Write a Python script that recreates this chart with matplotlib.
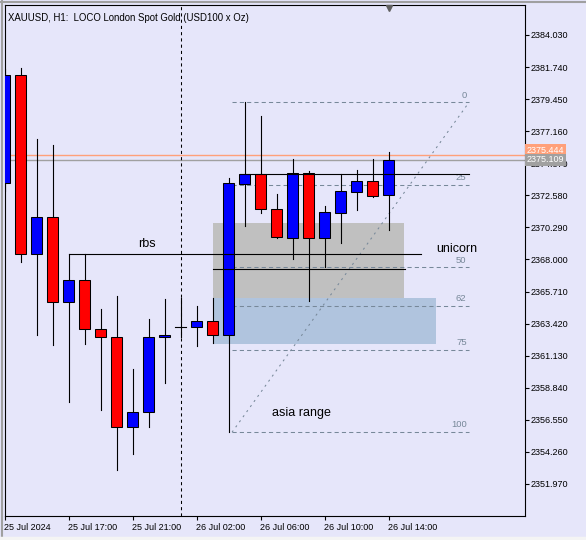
import matplotlib.pyplot as plt
import matplotlib.transforms as mtransforms
from matplotlib.patches import Rectangle

plt.rcParams['font.family'] = ['Liberation Sans', 'DejaVu Sans']

# velas H1 de XAUUSD (barra 0 = 25 Jul 13:00)
abertura = [2373.48, 2381.15, 2368.37, 2371.01, 2364.94, 2366.51, 2363.02, 2362.44, 2356.02,
            2357.09, 2362.44, 2363.16, 2363.20, 2363.59, 2362.59, 2373.41, 2374.08, 2371.59,
            2369.56, 2374.15, 2369.51, 2371.34, 2372.84, 2373.60, 2372.63]
maxima = [2381.60, 2381.67, 2376.58, 2376.15, 2368.37, 2368.37, 2364.46, 2365.37, 2360.16,
          2363.73, 2365.18, 2365.23, 2364.66, 2365.25, 2373.80, 2379.22, 2378.25, 2372.68,
          2375.18, 2374.32, 2371.82, 2374.08, 2374.39, 2375.18, 2375.68]
minima = [2372.90, 2367.84, 2362.63, 2361.92, 2357.85, 2361.99, 2357.27, 2352.99, 2354.13,
          2356.02, 2359.20, 2362.44, 2361.84, 2362.06, 2355.66, 2370.39, 2371.34, 2369.54,
          2368.04, 2365.06, 2367.49, 2369.20, 2371.54, 2372.49, 2370.13]
fechamento = [2381.15, 2368.37, 2371.01, 2364.94, 2366.51, 2363.02, 2362.44, 2356.02, 2357.09,
              2362.44, 2362.59, 2363.16, 2363.59, 2362.59, 2373.44, 2374.08, 2371.59, 2369.63,
              2374.15, 2369.51, 2371.37, 2372.89, 2373.60, 2372.56, 2375.109]

tempo_pos = [0, 4, 8, 12, 16, 20, 24]
tempo_txt = ['25 Jul 2024', '25 Jul 17:00', '25 Jul 21:00', '26 Jul 02:00',
             '26 Jul 06:00', '26 Jul 10:00', '26 Jul 14:00']
preco_ticks = [2384.030, 2381.740, 2379.450, 2377.160, 2374.870, 2372.580, 2370.290, 2368.000,
               2365.710, 2363.420, 2361.130, 2358.840, 2356.550, 2354.260, 2351.970]

bid = 2375.109
ask = 2375.444

# objetos desenhados
rbs_nivel, rbs_ini, rbs_fim = 2368.37, 4, 26
linha_topo, topo_ini, topo_fim = 2374.08, 14.7, 29
linha_meio, meio_ini, meio_fim = 2367.31, 13, 25
caixa_cinza = (13, 24.97, 2365.25, 2370.61)
caixa_azul = (13, 26.97, 2361.99, 2365.25)
fib_ini, fib_fim = 14.22, 29.03
fib_alta, fib_baixa = 2379.22, 2355.66
fib_niveis = [0, 0.25, 0.5, 0.618, 0.75, 1.0]
fib_txt = ['0', '25', '50', '62', '75', '100']
separador_dia = 11

fundo = '#E6E6FA'
fig = plt.figure(figsize=(5.86, 5.40), dpi=100, facecolor=fundo)
ax = fig.add_axes([4.5 / 586, (540 - 516.3) / 540, 520 / 586, 511 / 540])
ax.set_facecolor(fundo)
ax.set_xlim(0, 32.5)
ax.set_ylim(2349.66, 2386.15)

# caixas
x0, x1, y0, y1 = caixa_cinza
ax.add_patch(Rectangle((x0, y0), x1 - x0, y1 - y0, fc='#C0C0C0', ec='none', zorder=1))
x0, x1, y0, y1 = caixa_azul
ax.add_patch(Rectangle((x0, y0), x1 - x0, y1 - y0, fc='#B0C4DE', ec='none', zorder=1))

# linhas de preco
ax.axhline(ask, color='#FFA07A', lw=1, zorder=1.5)
ax.axhline(bid, color='#A0A0A0', lw=1, zorder=1.5)
ax.axvline(separador_dia, color='black', lw=0.75, ls=(0, (3, 3)), zorder=1.5)

# fibo
for nv, txt in zip(fib_niveis, fib_txt):
    p = fib_alta - nv * (fib_alta - fib_baixa)
    ax.plot([fib_ini, fib_fim], [p, p], color='#778899', lw=0.75, ls=(0, (4, 3)), zorder=2)
    ax.annotate(txt, (fib_fim - 0.15, p), xytext=(0, 2), textcoords='offset points',
                ha='right', va='bottom', fontsize=6.8, color='#778899')
ax.plot([fib_ini, fib_fim], [fib_baixa, fib_alta], color='#778899', lw=0.75,
        ls=(0, (2, 4)), zorder=2)

# velas
larg = 0.69
for i in range(len(abertura)):
    o, h, l, c = abertura[i], maxima[i], minima[i], fechamento[i]
    ax.plot([i, i], [l, h], color='black', lw=0.8, zorder=3)
    if abs(c - o) < 0.01:
        ax.plot([i - larg / 2, i + larg / 2], [o, o], color='black', lw=0.8, zorder=3)
        continue
    cor = 'blue' if c > o else 'red'
    ax.add_patch(Rectangle((i - larg / 2, min(o, c)), larg, abs(c - o),
                           fc=cor, ec='black', lw=0.75, zorder=4))

# linhas horizontais
ax.plot([rbs_ini, rbs_fim], [rbs_nivel] * 2, color='black', lw=0.8, zorder=5)
ax.plot([topo_ini, topo_fim], [linha_topo] * 2, color='black', lw=0.8, zorder=5)
ax.plot([meio_ini, meio_fim], [linha_meio] * 2, color='black', lw=0.8, zorder=5)

ax.text(8.875, 2369.09, 'rbs', fontsize=9, ha='center', va='center', zorder=6)
ax.text(27.0, 2368.75, 'unicorn', fontsize=9, ha='left', va='center', zorder=6)
ax.text(16.7, 2357.06, 'asia range', fontsize=9, ha='left', va='center', zorder=6)

ax.text(0.006, 0.985, 'XAUUSD, H1:  LOCO London Spot Gold (USD100 x Oz)', transform=ax.transAxes,
        fontsize=6.9, ha='left', va='top', zorder=6)

# eixos
ax.yaxis.tick_right()
ax.set_yticks(preco_ticks)
ax.set_yticklabels(['%.3f' % v for v in preco_ticks])
ax.set_xticks(tempo_pos)
ax.set_xticklabels(tempo_txt, ha='left')
ax.tick_params(axis='both', direction='out', length=3, width=0.8, labelsize=6.5, pad=1.5)
for s in ax.spines.values():
    s.set_color('black')
    s.set_linewidth(0.8)

trans = mtransforms.blended_transform_factory(ax.transAxes, ax.transData)
ax.text(1.004, ask + 0.35, '%.3f' % ask, transform=trans, fontsize=6.5, color='white',
        ha='left', va='center', clip_on=False, zorder=7,
        bbox=dict(boxstyle='square,pad=0.2', fc='#FFA07A', ec='none'))
ax.text(1.004, bid, '%.3f' % bid, transform=trans, fontsize=6.5, color='white',
        ha='left', va='center', clip_on=False, zorder=8,
        bbox=dict(boxstyle='square,pad=0.2', fc='#A0A0A0', ec='none'))

# marcador de shift no topo
ax.plot(24.03, 2385.95, marker='v', color='#606060', ms=5, clip_on=False, zorder=7)

# bordas da janela
fig.add_artist(plt.Line2D([0, 1], [1 - 1.5 / 540] * 2, color='#A0A0A0', lw=1.5))
fig.add_artist(plt.Line2D([1.5 / 586] * 2, [0, 1], color='#A0A0A0', lw=1.5))
fig.add_artist(plt.Line2D([0, 1], [2.5 / 540] * 2, color='#F4F4F4', lw=2.5))

fig.savefig('out.png', dpi=100, facecolor=fundo)
